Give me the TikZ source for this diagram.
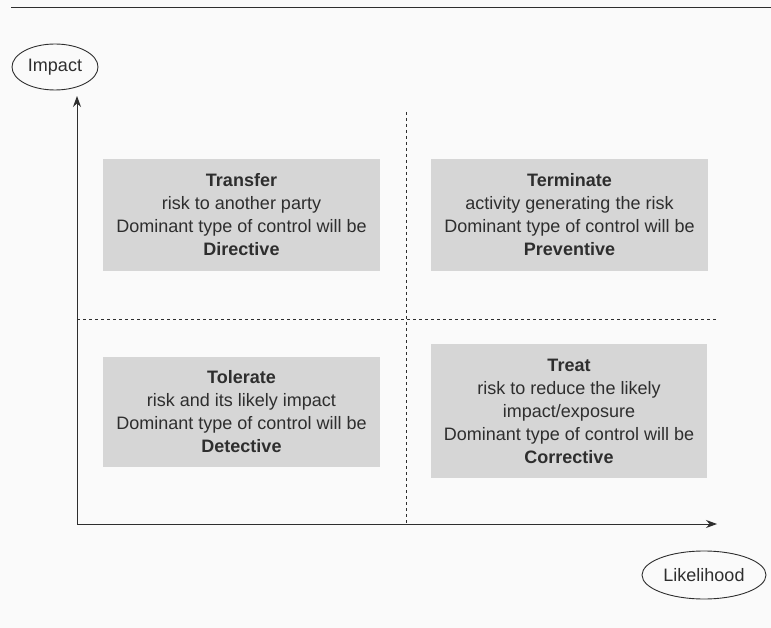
\documentclass[tikz,border=0pt]{standalone}
\usepackage{fontspec}
\setmainfont{Liberation Sans}
\usetikzlibrary{arrows.meta,shapes.geometric}
\definecolor{bg}{HTML}{FAFAFA}
\definecolor{boxgray}{HTML}{D6D6D6}
\definecolor{ink}{HTML}{2E2E2E}
\begin{document}
\begin{tikzpicture}[x=1pt,y=-1pt,
  every node/.style={text=ink,font=\fontsize{18}{23}\selectfont},
  quad/.style={fill=boxgray,draw=none,align=center,inner sep=0pt},
  axislabel/.style={draw=ink,line width=0.9pt,ellipse,inner sep=0pt},
  axis/.style={draw=ink,line width=0.9pt,-{Stealth[length=11pt,width=8pt]}},
  divider/.style={draw=ink,line width=0.8pt,dash pattern=on 3pt off 3pt}]
  % page and top rule
  \fill[bg] (0,0) rectangle (771,628);
  \useasboundingbox (0,0) rectangle (771,628);
  \draw[ink,line width=1pt] (11,8) -- (771,8);

  % axis labels
  \node[axislabel,minimum width=86pt,minimum height=46pt] (impact) at (55,67) {Impact};
  \node[axislabel,minimum width=124pt,minimum height=48pt] (likelihood) at (704,575) {Likelihood};

  % axes
  \coordinate (origin) at (77,524);
  \coordinate (ytip) at (77,96);
  \coordinate (xtip) at (717,524);
  \draw[axis] (origin) -- (ytip);
  \draw[axis] (origin) -- (xtip);

  % quadrant dividers
  \coordinate (vtop) at (406,112);
  \coordinate (vbot) at (406,524);
  \coordinate (hleft) at (77,319);
  \coordinate (hright) at (716,319);
  \draw[divider] (vtop) -- (vbot);
  \draw[divider] (hleft) -- (hright);

  % quadrant boxes
  \node[quad,minimum width=277pt,minimum height=112pt] (transfer) at (241.5,215)
    {\textbf{Transfer}\\risk to another party\\Dominant type of control will be\\\textbf{Directive}};
  \node[quad,minimum width=277pt,minimum height=112pt] (terminate) at (569.5,215)
    {\textbf{Terminate}\\activity generating the risk\\Dominant type of control will be\\\textbf{Preventive}};
  \node[quad,minimum width=277pt,minimum height=110pt] (tolerate) at (241.5,411.5)
    {\textbf{Tolerate}\\risk and its likely impact\\Dominant type of control will be\\\textbf{Detective}};
  \node[quad,minimum width=276pt,minimum height=134pt] (treat) at (569,411)
    {\textbf{Treat}\\risk to reduce the likely\\impact/exposure\\Dominant type of control will be\\\textbf{Corrective}};
\end{tikzpicture}
\end{document}
